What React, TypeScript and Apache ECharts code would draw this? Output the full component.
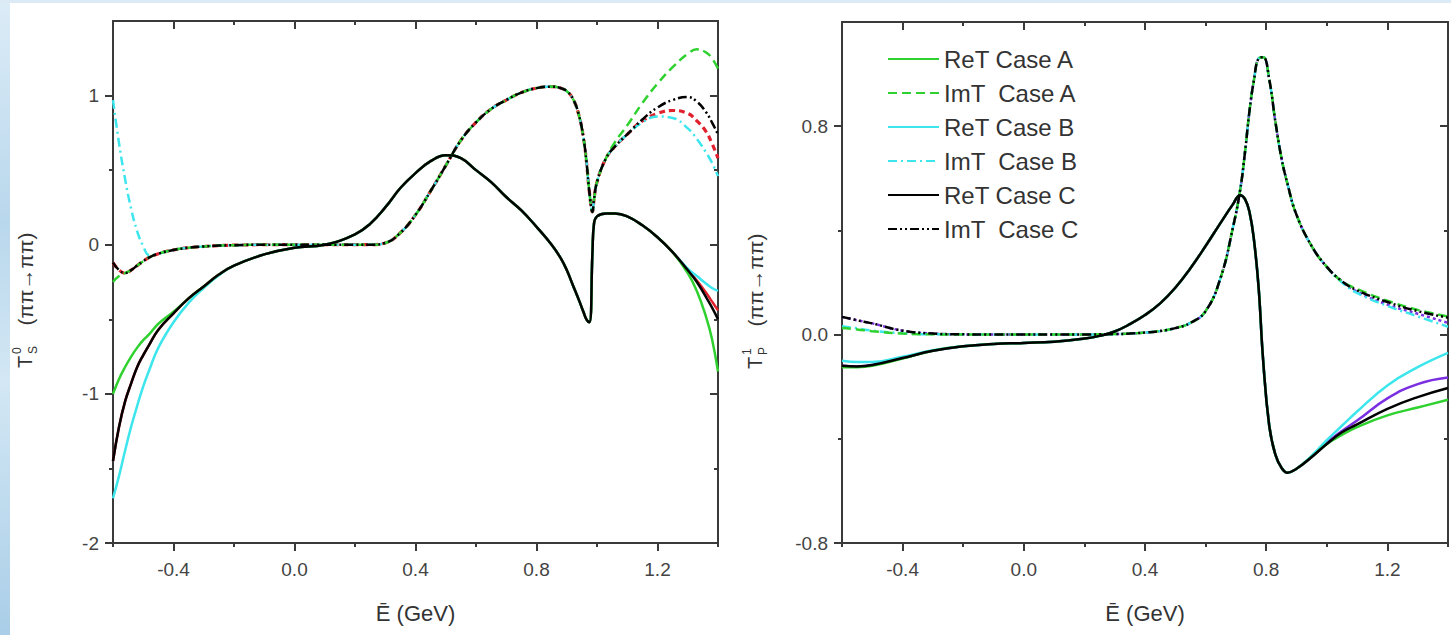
import React, { useEffect, useRef } from 'react';
import * as echarts from 'echarts';

// ---------- tick values ----------
const xTicksMajor = [-0.4, 0, 0.4, 0.8, 1.2];
const xTicksMinor = [-0.6, -0.2, 0.2, 0.6, 1.0, 1.4];
const yTicksMajorS = [-2, -1, 0, 1];
const yTicksMinorS = [-1.5, -0.5, 0.5];
const yTicksMajorP = [-0.8, 0, 0.8];
const yTicksMinorP = [-0.4, 0.4];

const legendNames = ['ReT Case A', 'ImT  Case A', 'ReT Case B', 'ImT  Case B', 'ReT Case C', 'ImT  Case C'];

// ---------- left panel: S-wave, energies (GeV) ----------
const energyS = [-0.6, -0.58, -0.56, -0.54, -0.52, -0.5, -0.48, -0.45, -0.4, -0.35,
  -0.3, -0.25, -0.2, -0.1, 0, 0.1, 0.2, 0.25, 0.3, 0.35,
  0.4, 0.45, 0.5, 0.55, 0.6, 0.65, 0.7, 0.75, 0.8, 0.85,
  0.88, 0.9, 0.92, 0.94, 0.955, 0.965, 0.975, 0.985, 0.99, 1.0,
  1.03, 1.06, 1.1, 1.15, 1.2, 1.25, 1.3, 1.33, 1.36, 1.38, 1.4];

const reS_A = [-1.0, -0.9, -0.82, -0.75, -0.69, -0.64, -0.6, -0.53, -0.45, -0.36,
  -0.28, -0.2, -0.14, -0.065, -0.02, 0.0, 0.07, 0.14, 0.25, 0.38,
  0.48, 0.56, 0.60, 0.58, 0.50, 0.42, 0.32, 0.23, 0.12, 0.0,
  -0.09, -0.17, -0.27, -0.37, -0.45, -0.50, -0.52, -0.05, 0.14, 0.19,
  0.21, 0.21, 0.19, 0.13, 0.05, -0.05, -0.19, -0.31, -0.48, -0.63, -0.85];
const reS_B = [-1.70, -1.55, -1.38, -1.22, -1.08, -0.95, -0.84, -0.69, -0.52, -0.39,
  -0.29, -0.205, -0.14, -0.065, -0.02, 0.0, 0.07, 0.14, 0.25, 0.38,
  0.48, 0.56, 0.60, 0.58, 0.50, 0.42, 0.32, 0.23, 0.12, 0.0,
  -0.09, -0.17, -0.27, -0.37, -0.45, -0.50, -0.52, -0.05, 0.14, 0.19,
  0.21, 0.21, 0.19, 0.13, 0.05, -0.05, -0.16, -0.21, -0.26, -0.29, -0.31];
const reS_C = [-1.45, -1.22, -1.05, -0.93, -0.82, -0.74, -0.67, -0.57, -0.46, -0.36,
  -0.28, -0.2, -0.14, -0.065, -0.02, 0.0, 0.07, 0.14, 0.25, 0.38,
  0.48, 0.56, 0.60, 0.58, 0.50, 0.42, 0.32, 0.23, 0.12, 0.0,
  -0.09, -0.17, -0.27, -0.37, -0.45, -0.50, -0.52, -0.05, 0.14, 0.19,
  0.21, 0.21, 0.19, 0.13, 0.05, -0.05, -0.17, -0.25, -0.35, -0.42, -0.50];
const reS_D = [-1.45, -1.22, -1.05, -0.93, -0.82, -0.74, -0.67, -0.57, -0.46, -0.36,
  -0.28, -0.2, -0.14, -0.065, -0.02, 0.0, 0.07, 0.14, 0.25, 0.38,
  0.48, 0.56, 0.60, 0.58, 0.50, 0.42, 0.32, 0.23, 0.12, 0.0,
  -0.09, -0.17, -0.27, -0.37, -0.45, -0.50, -0.52, -0.05, 0.14, 0.19,
  0.21, 0.21, 0.19, 0.13, 0.05, -0.05, -0.17, -0.24, -0.32, -0.38, -0.44];

const imS_A = [-0.25, -0.21, -0.19, -0.17, -0.14, -0.11, -0.085, -0.06, -0.035, -0.02,
  -0.012, -0.006, -0.003, 0, 0, 0, 0, 0, 0.012, 0.08,
  0.2, 0.36, 0.53, 0.70, 0.82, 0.91, 0.97, 1.02, 1.05, 1.06,
  1.05, 1.03, 0.98, 0.87, 0.72, 0.56, 0.35, 0.22, 0.30, 0.42,
  0.58, 0.69, 0.80, 0.95, 1.08, 1.19, 1.28, 1.31, 1.29, 1.25, 1.18];
const imS_B = [0.97, 0.68, 0.44, 0.24, 0.09, -0.01, -0.07, -0.06, -0.035, -0.02,
  -0.012, -0.006, -0.003, 0, 0, 0, 0, 0, 0.012, 0.08,
  0.2, 0.36, 0.53, 0.70, 0.82, 0.91, 0.97, 1.02, 1.05, 1.06,
  1.05, 1.03, 0.98, 0.87, 0.72, 0.56, 0.35, 0.22, 0.30, 0.42,
  0.58, 0.66, 0.74, 0.82, 0.86, 0.85, 0.78, 0.71, 0.62, 0.55, 0.46];
const imS_C = [-0.12, -0.17, -0.19, -0.17, -0.14, -0.11, -0.085, -0.06, -0.035, -0.02,
  -0.012, -0.006, -0.003, 0, 0, 0, 0, 0, 0.012, 0.08,
  0.2, 0.36, 0.53, 0.70, 0.82, 0.91, 0.97, 1.02, 1.05, 1.06,
  1.05, 1.03, 0.98, 0.87, 0.72, 0.56, 0.35, 0.22, 0.30, 0.42,
  0.58, 0.66, 0.74, 0.84, 0.92, 0.97, 0.99, 0.96, 0.89, 0.82, 0.74];
const imS_D = [-0.12, -0.17, -0.19, -0.17, -0.14, -0.11, -0.085, -0.06, -0.035, -0.02,
  -0.012, -0.006, -0.003, 0, 0, 0, 0, 0, 0.012, 0.08,
  0.2, 0.36, 0.53, 0.70, 0.82, 0.91, 0.97, 1.02, 1.05, 1.06,
  1.05, 1.03, 0.98, 0.87, 0.72, 0.56, 0.35, 0.22, 0.30, 0.42,
  0.58, 0.66, 0.74, 0.83, 0.88, 0.90, 0.88, 0.83, 0.76, 0.68, 0.58];

// ---------- right panel: P-wave ----------
const energyP = [-0.6, -0.55, -0.5, -0.4, -0.3, -0.2, -0.1, 0, 0.1, 0.2,
  0.25, 0.3, 0.35, 0.4, 0.45, 0.5, 0.55, 0.6, 0.65, 0.69,
  0.714, 0.73, 0.745, 0.76, 0.775, 0.79, 0.81, 0.83, 0.85, 0.87,
  0.9, 0.95, 1.0, 1.05, 1.1, 1.2, 1.3, 1.4];

const reP_A = [-0.125, -0.125, -0.12, -0.092, -0.062, -0.045, -0.036, -0.032, -0.027, -0.015,
  -0.005, 0.012, 0.04, 0.075, 0.12, 0.18, 0.255, 0.34, 0.43, 0.5,
  0.535, 0.52, 0.47, 0.36, 0.18, -0.1, -0.35, -0.46, -0.51, -0.53,
  -0.515, -0.47, -0.42, -0.385, -0.355, -0.31, -0.28, -0.25];
const reP_B = [-0.10, -0.105, -0.105, -0.085, -0.06, -0.045, -0.036, -0.032, -0.027, -0.015,
  -0.005, 0.012, 0.04, 0.075, 0.12, 0.18, 0.255, 0.34, 0.43, 0.5,
  0.535, 0.52, 0.47, 0.36, 0.18, -0.1, -0.35, -0.46, -0.51, -0.53,
  -0.515, -0.465, -0.405, -0.35, -0.295, -0.195, -0.125, -0.07];
const reP_C = [-0.12, -0.122, -0.117, -0.09, -0.062, -0.045, -0.036, -0.032, -0.027, -0.015,
  -0.005, 0.012, 0.04, 0.075, 0.12, 0.18, 0.255, 0.34, 0.43, 0.5,
  0.535, 0.52, 0.47, 0.36, 0.18, -0.1, -0.35, -0.46, -0.51, -0.53,
  -0.515, -0.47, -0.42, -0.375, -0.345, -0.285, -0.24, -0.205];
const reP_D = [-0.12, -0.122, -0.117, -0.09, -0.062, -0.045, -0.036, -0.032, -0.027, -0.015,
  -0.005, 0.012, 0.04, 0.075, 0.12, 0.18, 0.255, 0.34, 0.43, 0.5,
  0.535, 0.52, 0.47, 0.36, 0.18, -0.1, -0.35, -0.46, -0.51, -0.53,
  -0.515, -0.47, -0.415, -0.37, -0.33, -0.245, -0.19, -0.165];

const imP_A = [0.025, 0.02, 0.013, 0.004, 0.001, 0, 0, 0, 0, 0,
  0.001, 0.002, 0.004, 0.008, 0.014, 0.025, 0.045, 0.09, 0.22, 0.41,
  0.555, 0.7, 0.86, 0.98, 1.06, 1.065, 0.98, 0.82, 0.68, 0.58,
  0.46, 0.34, 0.26, 0.205, 0.175, 0.13, 0.095, 0.07];
const imP_B = [0.032, 0.024, 0.015, 0.005, 0.001, 0.001, 0, 0, 0, 0,
  0.001, 0.002, 0.004, 0.008, 0.014, 0.025, 0.045, 0.09, 0.22, 0.41,
  0.555, 0.7, 0.86, 0.98, 1.06, 1.065, 0.98, 0.82, 0.68, 0.58,
  0.46, 0.34, 0.26, 0.2, 0.16, 0.11, 0.07, 0.03];
const imP_C = [0.068, 0.055, 0.043, 0.015, 0.004, 0.001, 0, 0, 0, 0,
  0.001, 0.002, 0.004, 0.008, 0.014, 0.025, 0.045, 0.09, 0.22, 0.41,
  0.555, 0.7, 0.86, 0.98, 1.06, 1.065, 0.98, 0.82, 0.68, 0.58,
  0.46, 0.34, 0.26, 0.205, 0.17, 0.125, 0.09, 0.065];
const imP_D = [0.068, 0.055, 0.043, 0.015, 0.004, 0.001, 0, 0, 0, 0,
  0.001, 0.002, 0.004, 0.008, 0.014, 0.025, 0.045, 0.09, 0.22, 0.41,
  0.555, 0.7, 0.86, 0.98, 1.06, 1.065, 0.98, 0.82, 0.68, 0.58,
  0.46, 0.34, 0.26, 0.205, 0.165, 0.115, 0.08, 0.045];

// ---------- styles ----------
const FONT = '"Liberation Sans", Arial, Helvetica, sans-serif';
const AXIS_COLOR = '#3a3a3a';
const GREEN = '#2fd12f';
const CYAN = '#3de6ec';
const BLACK = '#000000';
const RED = '#e0202c';
const PURPLE = '#7a2fe0';

const axisLineStyle = { color: AXIS_COLOR, width: 2 };

function xAxesFor(g: number) {
  const base = { gridIndex: g, type: 'value', min: -0.6, max: 1.4, splitLine: { show: false }, silent: true };
  return [
    {
      ...base, position: 'bottom',
      axisLine: { show: true, onZero: false, lineStyle: axisLineStyle },
      axisTick: { show: true, customValues: xTicksMajor, length: 8, lineStyle: axisLineStyle },
      axisLabel: {
        show: true, customValues: xTicksMajor, formatter: (v: number) => v.toFixed(1),
        fontSize: 19, color: '#444', fontFamily: FONT, margin: 17,
      },
      name: 'Ē (GeV)', nameLocation: 'middle', nameGap: 59,
      nameTextStyle: { fontSize: 22, color: '#333', fontFamily: FONT },
    },
    {
      ...base, position: 'bottom',
      axisLine: { show: false, onZero: false },
      axisTick: { show: true, customValues: xTicksMinor, length: 4, lineStyle: axisLineStyle },
      axisLabel: { show: false },
    },
    {
      ...base, position: 'top',
      axisLine: { show: true, onZero: false, lineStyle: axisLineStyle },
      axisTick: { show: true, inside: true, customValues: xTicksMajor, length: 8, lineStyle: axisLineStyle },
      axisLabel: { show: false },
    },
    {
      ...base, position: 'top',
      axisLine: { show: false, onZero: false },
      axisTick: { show: true, inside: true, customValues: xTicksMinor, length: 4, lineStyle: axisLineStyle },
      axisLabel: { show: false },
    },
  ];
}

function yAxesFor(g: number, min: number, max: number, major: number[], minor: number[], fmt: (v: number) => string) {
  const base = { gridIndex: g, type: 'value', min, max, splitLine: { show: false }, silent: true };
  return [
    {
      ...base, position: 'left',
      axisLine: { show: true, onZero: false, lineStyle: axisLineStyle },
      axisTick: { show: true, customValues: major, length: 8, lineStyle: axisLineStyle },
      axisLabel: { show: true, customValues: major, formatter: fmt, fontSize: 19, color: '#444', fontFamily: FONT, margin: 14 },
    },
    {
      ...base, position: 'left',
      axisLine: { show: false, onZero: false },
      axisTick: { show: true, customValues: minor, length: 4, lineStyle: axisLineStyle },
      axisLabel: { show: false },
    },
    {
      ...base, position: 'right',
      axisLine: { show: true, onZero: false, lineStyle: axisLineStyle },
      axisTick: { show: true, inside: true, customValues: major, length: 8, lineStyle: axisLineStyle },
      axisLabel: { show: false },
    },
    {
      ...base, position: 'right',
      axisLine: { show: false, onZero: false },
      axisTick: { show: true, inside: true, customValues: minor, length: 4, lineStyle: axisLineStyle },
      axisLabel: { show: false },
    },
  ];
}

function line(name: string, g: number, xs: number[], ys: number[], color: string, width: number, dash: any) {
  return {
    type: 'line', name, xAxisIndex: g * 4, yAxisIndex: g * 4,
    data: xs.map((x, i) => [x, ys[i]]),
    symbol: 'none', showSymbol: false, smooth: 0.45,
    lineStyle: { color, width, type: dash }, itemStyle: { color },
    silent: true, clip: true,
  };
}

const DASH_A = [9, 5];
const DASH_B = [9, 4, 2, 4];
const DASH_C = [9, 3, 2, 3, 2, 3];

function yName(cx: number, cy: number, sup: string, sub: string) {
  const t = (text: string, x: number, y: number, size: number, align: string) => ({
    type: 'text', x, y, silent: true,
    style: {
      text, fontSize: size, fontFamily: FONT, fill: '#333',
      align, textAlign: align, verticalAlign: 'middle', textVerticalAlign: 'middle',
    },
  });
  return {
    type: 'group', x: cx, y: cy, rotation: Math.PI / 2, silent: true,
    children: [
      t('T', -72, 0, 20, 'left'),
      t(sup, -58, -8, 12, 'left'),
      t(sub, -58, 8, 12, 'left'),
      t('(ππ→ππ)', 17, 0, 21, 'center'),
    ],
  };
}

export default function App() {
  const ref = useRef<HTMLDivElement>(null);
  useEffect(() => {
    const chart = echarts.init(ref.current as HTMLDivElement, null, { renderer: 'svg' });
    const option: any = {
      animation: false,
      backgroundColor: 'transparent',
      grid: [
        { left: 113, top: 21, width: 605, height: 522, show: false, containLabel: false },
        { left: 842, top: 22, width: 606, height: 521, show: false, containLabel: false },
      ],
      xAxis: [...xAxesFor(0), ...xAxesFor(1)],
      yAxis: [
        ...yAxesFor(0, -2, 1.5, yTicksMajorS, yTicksMinorS, (v: number) => String(v)),
        ...yAxesFor(1, -0.8, 1.2, yTicksMajorP, yTicksMinorP, (v: number) => v.toFixed(1)),
      ],
      legend: {
        data: legendNames, orient: 'vertical', left: 882, top: 42,
        itemWidth: 51, itemHeight: 12, itemGap: 10, selectedMode: false,
        itemStyle: { opacity: 0, color: 'rgba(0,0,0,0)', borderWidth: 0 },
        textStyle: { fontSize: 24, color: '#333', fontFamily: FONT, lineHeight: 24 },
      },
      graphic: [
        yName(25, 296, '0', 'S'),
        yName(755, 297, '1', 'P'),
      ],
      series: [
        // left panel
        line('ReT Case D', 0, energyS, reS_D, RED, 2.5, 'solid'),
        line('ImT Case D', 0, energyS, imS_D, RED, 3.2, [6, 4]),
        line('ReT Case B', 0, energyS, reS_B, CYAN, 2.5, 'solid'),
        line('ImT  Case B', 0, energyS, imS_B, CYAN, 2.5, DASH_B),
        line('ReT Case A', 0, energyS, reS_A, GREEN, 2.5, 'solid'),
        line('ImT  Case A', 0, energyS, imS_A, GREEN, 2.5, DASH_A),
        line('ReT Case C', 0, energyS, reS_C, BLACK, 2.5, 'solid'),
        line('ImT  Case C', 0, energyS, imS_C, BLACK, 2.5, DASH_C),
        // right panel
        line('ReT Case D', 1, energyP, reP_D, PURPLE, 2.5, 'solid'),
        line('ImT Case D', 1, energyP, imP_D, PURPLE, 2.5, [3, 3]),
        line('ReT Case B', 1, energyP, reP_B, CYAN, 2.5, 'solid'),
        line('ImT  Case B', 1, energyP, imP_B, CYAN, 2.5, DASH_B),
        line('ReT Case A', 1, energyP, reP_A, GREEN, 2.5, 'solid'),
        line('ImT  Case A', 1, energyP, imP_A, GREEN, 2.5, DASH_A),
        line('ReT Case C', 1, energyP, reP_C, BLACK, 2.5, 'solid'),
        line('ImT  Case C', 1, energyP, imP_C, BLACK, 2.5, DASH_C),
      ],
    };
    chart.setOption(option);
    return () => chart.dispose();
  }, []);

  return (
    <div style={{ position: 'fixed', left: 0, top: 0, width: 1451, height: 635, background: '#ffffff', overflow: 'hidden' }}>
      <div style={{ position: 'absolute', left: 0, top: 0, width: 10, height: 635, background: 'linear-gradient(to bottom, #dcecf7 0%, #b9d7ec 35%, #d3e7f4 60%, #aacee8 100%)' }} />
      <div style={{ position: 'absolute', left: 0, top: 0, width: 1451, height: 3, background: '#dbeaf5' }} />
      <div ref={ref} style={{ position: 'absolute', left: 0, top: 0, width: 1451, height: 635 }} />
    </div>
  );
}
